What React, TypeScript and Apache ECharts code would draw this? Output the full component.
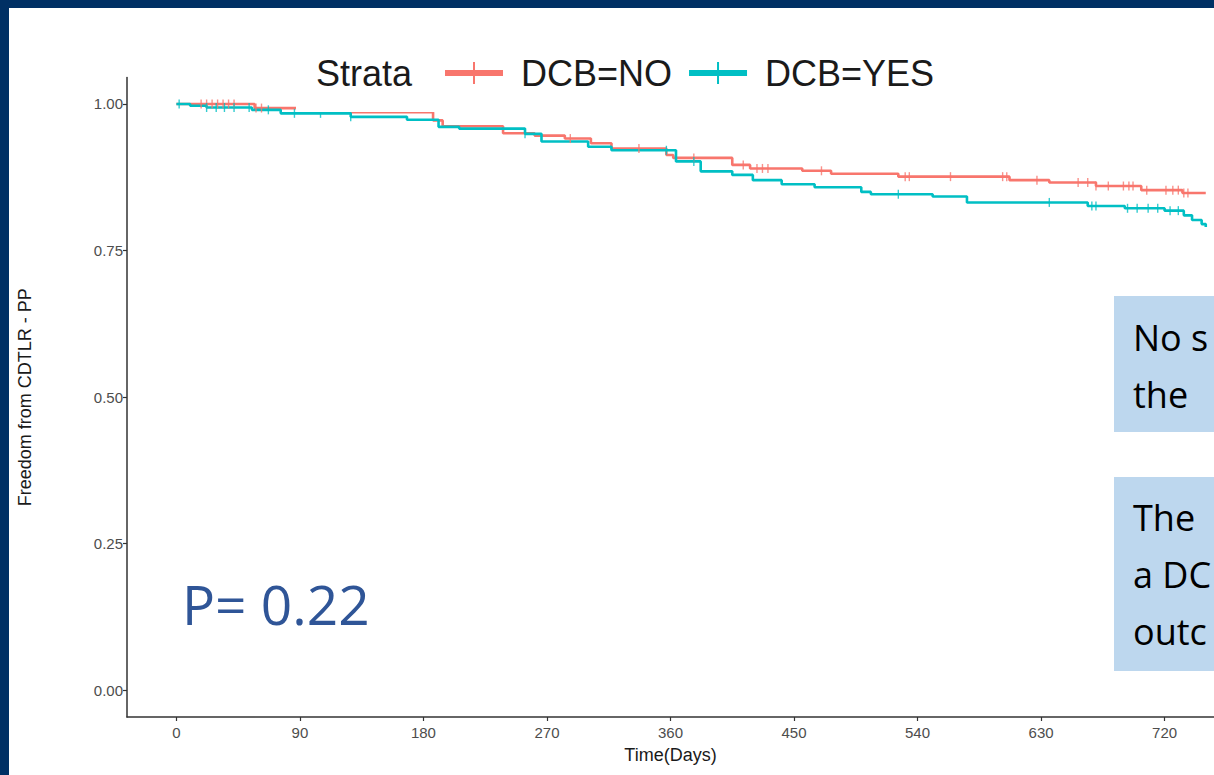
import React, { useEffect, useRef } from "react";
import * as echarts from "echarts";

// ---- data ----
const xTicks = [0, 90, 180, 270, 360, 450, 540, 630, 720];
const yTicks = [0, 0.25, 0.5, 0.75, 1];

const seriesNames = ["DCB=NO", "DCB=YES"];

const noTimes = [0, 57, 100, 187, 194, 238, 261, 283, 302, 317, 357, 362, 405, 418, 456, 477, 526, 607, 636, 670, 703, 733, 750];
const noSurv = [1.0, 0.993, 0.986, 0.972, 0.962, 0.95, 0.946, 0.941, 0.933, 0.924, 0.913, 0.908, 0.896, 0.89, 0.886, 0.881, 0.876, 0.87, 0.866, 0.86, 0.853, 0.848, 0.848];

const yesTimes = [0, 10, 22, 55, 76, 127, 168, 191, 206, 254, 266, 300, 317, 364, 382, 405, 420, 441, 465, 499, 506, 551, 576, 664, 691, 720, 734, 740, 747, 750];
const yesSurv = [1.0, 0.997, 0.994, 0.99, 0.984, 0.978, 0.973, 0.961, 0.958, 0.949, 0.936, 0.927, 0.921, 0.902, 0.885, 0.879, 0.87, 0.863, 0.858, 0.85, 0.846, 0.842, 0.832, 0.826, 0.822, 0.818, 0.81, 0.802, 0.795, 0.79];

const noCensor = [18, 22, 26, 30, 34, 38, 42, 58, 62, 287, 337, 377, 413, 423, 427, 431, 470, 531, 534, 564, 602, 605, 627, 657, 664, 670, 679, 690, 694, 697, 707, 721, 726, 730, 734, 737];
const yesCensor = [2, 22, 29, 35, 42, 53, 67, 86, 105, 127, 254, 357, 377, 526, 636, 667, 670, 693, 700, 708, 715, 724, 730];

const pValueText = "P= 0.22";
const box1Lines = ["No s", "the"];
const box2Lines = ["The", "a DC", "outc"];

const RED = "#F8766D";
const CYAN = "#00BFC4";

function survAt(times: number[], surv: number[], t: number) {
  let v = surv[0];
  for (let i = 0; i < times.length; i++) {
    if (times[i] <= t) v = surv[i];
  }
  return v;
}

export default function App() {
  const ref = useRef<HTMLDivElement>(null);
  useEffect(() => {
    if (!ref.current) return;
    const chart = echarts.init(ref.current, null, { renderer: "svg" });
    const stepSeries = (name: string, times: number[], surv: number[], color: string) => ({
      name,
      type: "line",
      step: "end",
      showSymbol: false,
      symbol: "none",
      data: times.map((t, i) => [t, surv[i]]),
      lineStyle: { color, width: 2.6 },
      itemStyle: { color },
      z: 2,
    });
    const censorSeries = (name: string, cens: number[], times: number[], surv: number[], color: string) => ({
      name,
      type: "scatter",
      symbol: "rect",
      symbolSize: [1.4, 9],
      data: cens.map((t) => [t, survAt(times, surv, t)]),
      itemStyle: { color },
      z: 2,
    });
    const crossIcon = "path://M0,8 H28 V0 H30 V8 H58 V14 H30 V22 H28 V14 H0 Z";
    const boxFont = "Open Sans, Noto Sans, sans-serif";
    chart.setOption({
      animation: false,
      backgroundColor: "#ffffff",
      grid: { left: 127, right: -11, top: 77.6, bottom: 58, containLabel: false },
      legend: {
        data: seriesNames.map((n) => ({ name: n, icon: crossIcon })),
        left: 440,
        top: 48,
        orient: "horizontal",
        itemWidth: 60,
        itemHeight: 22,
        itemGap: 17,
        textStyle: {
          fontFamily: "Liberation Sans, Arial, sans-serif",
          fontSize: 36,
          color: "#1a1a1a",
          lineHeight: 40,
          padding: [0, 0, 0, 12],
        },
        z: 6,
      },
      xAxis: {
        type: "value",
        min: -36,
        max: 756,
        name: "Time(Days)",
        nameLocation: "middle",
        nameGap: 29,
        nameTextStyle: { fontFamily: "Liberation Sans, Arial, sans-serif", fontSize: 18, color: "#1a1a1a" },
        axisLine: { show: true, onZero: false, lineStyle: { color: "#333333", width: 1.5 } },
        axisTick: { show: true, length: 4, customValues: xTicks, lineStyle: { color: "#333333", width: 1.2 } },
        axisLabel: {
          customValues: xTicks,
          margin: 8,
          fontFamily: "Liberation Sans, Arial, sans-serif",
          fontSize: 15,
          color: "#4d4d4d",
        },
        splitLine: { show: false },
      },
      yAxis: {
        type: "value",
        min: -0.046,
        max: 1.045,
        name: "Freedom from CDTLR - PP",
        nameLocation: "middle",
        nameGap: 93,
        nameTextStyle: { fontFamily: "Liberation Sans, Arial, sans-serif", fontSize: 18, color: "#1a1a1a" },
        axisLine: { show: true, onZero: false, lineStyle: { color: "#333333", width: 1.5 } },
        axisTick: { show: true, length: 4, customValues: yTicks, lineStyle: { color: "#333333", width: 1.2 } },
        axisLabel: {
          customValues: yTicks,
          margin: 4,
          fontFamily: "Liberation Sans, Arial, sans-serif",
          fontSize: 15,
          color: "#4d4d4d",
          formatter: (v: number) => v.toFixed(2),
        },
        splitLine: { show: false },
      },
      series: [
        stepSeries(seriesNames[0], noTimes, noSurv, RED),
        stepSeries(seriesNames[1], yesTimes, yesSurv, CYAN),
        censorSeries(seriesNames[0], noCensor, noTimes, noSurv, RED),
        censorSeries(seriesNames[1], yesCensor, yesTimes, yesSurv, CYAN),
      ],
      graphic: [
        { type: "rect", z: 3, shape: { x: 296, y: 30, width: 670, height: 82 }, style: { fill: "#ffffff" } },
        {
          type: "text", z: 7, x: 316, y: 73,
          style: { text: "Strata", fontFamily: "Liberation Sans, Arial, sans-serif", fontSize: 36, fill: "#1a1a1a", textVerticalAlign: "middle", textAlign: "left" },
        },
        {
          type: "text", z: 7, x: 182, y: 603,
          style: { text: pValueText, fontFamily: boxFont, fontSize: 55, fill: "#2F5597", textVerticalAlign: "middle", textAlign: "left" },
        },
        { type: "rect", z: 7, shape: { x: 1114, y: 296, width: 110, height: 136 }, style: { fill: "#BDD7EE" } },
        { type: "rect", z: 7, shape: { x: 1114, y: 477, width: 110, height: 194 }, style: { fill: "#BDD7EE" } },
        ...box1Lines.map((t, i) => ({
          type: "text", z: 8, x: 1133, y: 337 + i * 57,
          style: { text: t, fontFamily: boxFont, fontSize: 36, fill: "#000000", textVerticalAlign: "middle", textAlign: "left" },
        })),
        ...box2Lines.map((t, i) => ({
          type: "text", z: 8, x: 1133, y: 517 + i * 57,
          style: { text: t, fontFamily: boxFont, fontSize: 36, fill: "#000000", textVerticalAlign: "middle", textAlign: "left" },
        })),
        { type: "rect", z: 20, shape: { x: 0, y: 0, width: 1214, height: 8 }, style: { fill: "#003064" } },
        { type: "rect", z: 20, shape: { x: 0, y: 0, width: 9, height: 775 }, style: { fill: "#003064" } },
      ],
    });
    return () => chart.dispose();
  }, []);
  return (
    <div style={{ position: "fixed", left: 0, top: 0, width: 1214, height: 775, overflow: "hidden", background: "#ffffff" }}>
      <div ref={ref} style={{ width: 1214, height: 775 }} />
    </div>
  );
}
